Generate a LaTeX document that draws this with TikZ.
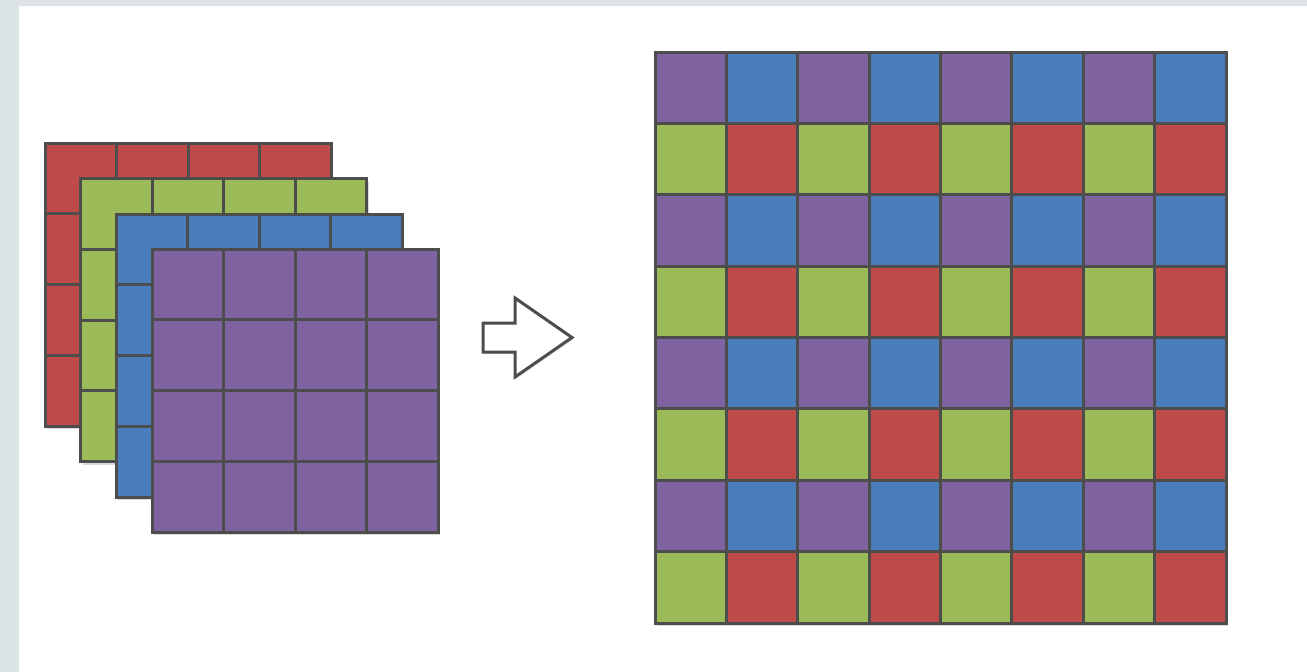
\documentclass[tikz,border=0pt]{standalone}
\usetikzlibrary{shadows}
\definecolor{bgband}{HTML}{DCE4E6}
\definecolor{gridline}{HTML}{4D4D4D}
\definecolor{cred}{HTML}{BE4B48}
\definecolor{cgreen}{HTML}{9BBB59}
\definecolor{cblue}{HTML}{4A7EBB}
\definecolor{cpurple}{HTML}{7F63A0}
\begin{document}
\begin{tikzpicture}[x=1pt,y=-1pt,
  cell/.style={draw=gridline, line width=3pt, line join=miter},
  plate/.style={drop shadow={shadow xshift=2pt, shadow yshift=-3pt, opacity=0.15, fill=black}},
  arrowshape/.style={draw=gridline, fill=white, line width=3pt, line join=miter,
    drop shadow={shadow xshift=1pt, shadow yshift=-2pt, opacity=0.12, fill=black}}]
\useasboundingbox (0,0) rectangle (1307,672);
\fill[bgband] (0,0) rectangle (1307,672);
\fill[white] (19,6) rectangle (1307,672);
% left stack of 4x4 grids
\foreach \c/\x/\y in {cred/45/143, cgreen/80.5/178.5, cblue/116/214, cpurple/152/249} {
  \path[plate, fill=\c] (\x,\y) rectangle ++(286,283);
  \foreach \i in {0,...,3} {
    \foreach \j in {0,...,3} {
      \draw[cell, fill=\c] ({\x+\i*71.5},{\y+\j*70.75}) rectangle ++(71.5,70.75);
    }
  }
}
% arrow
\draw[arrowshape] (483,323) -- (515,323) -- (515,298) -- (572,337.5) -- (515,377) -- (515,352) -- (483,352) -- cycle;
% right 8x8 grid
\path[plate, fill=white] (655,52) rectangle (1226,623);
\foreach \j in {0,...,7} {
  \foreach \i in {0,...,7} {
    \pgfmathtruncatemacro{\r}{mod(\j,2)}
    \pgfmathtruncatemacro{\s}{mod(\i,2)}
    \ifnum\r=0
      \ifnum\s=0 \def\cc{cpurple}\else\def\cc{cblue}\fi
    \else
      \ifnum\s=0 \def\cc{cgreen}\else\def\cc{cred}\fi
    \fi
    \draw[cell, fill=\cc] ({655+\i*71.375},{52+\j*71.375}) rectangle ++(71.375,71.375);
  }
}
\end{tikzpicture}
\end{document}
